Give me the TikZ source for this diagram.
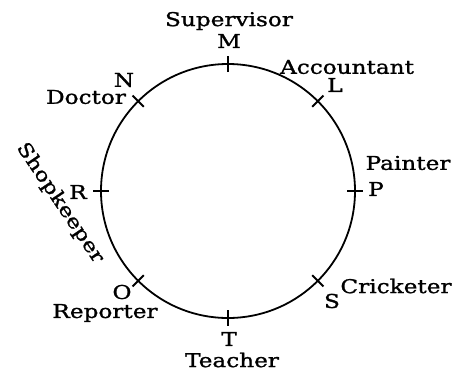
\documentclass[tikz,border=0pt]{standalone}
\usepackage{fontspec}
\setmainfont{DejaVu Serif}[FakeStretch=1.22,FakeBold=1.2]
\usetikzlibrary{calc}
\begin{document}
\begin{tikzpicture}[x=1pt,y=-1pt,
  lbl/.style={inner sep=0pt,font=\fontsize{19}{19}\selectfont},
  tick/.style={line width=1.8pt},
  ring/.style={draw,circle,line width=1.8pt,minimum size=254pt,inner sep=0pt}]
\useasboundingbox (0,0) rectangle (463,373);
\node[ring] (c) at (228,191) {};
\foreach \n/\a in {M/90,L/45,P/0,S/-45,T/-90,O/-135,R/180,N/135}{
  \coordinate (\n i) at ($(c.center)+(\a:119pt)$);
  \coordinate (\n o) at ($(c.center)+(\a:135pt)$);
  \draw[tick] (\n i) -- (\n o);
}
% letters
\node[lbl] (lM) at (229,41) {M};
\node[lbl] (lL) at (335,85) {L};
\node[lbl] (lP) at (376,189) {P};
\node[lbl] (lS) at (332,301) {S};
\node[lbl] (lT) at (229,339) {T};
\node[lbl] (lO) at (122,292) {O};
\node[lbl] (lR) at (78,192) {R};
\node[lbl] (lN) at (124,80) {N};
% professions
\node[lbl] (sup) at (229,21) {Supervisor};
\node[lbl] (acc) at (347,67) {Accountant};
\node[lbl] (pai) at (408,163) {Painter};
\node[lbl] (cri) at (396,286) {Cricketer};
\node[lbl] (tea) at (232,360) {Teacher};
\node[lbl] (rep) at (105,313) {Reporter};
\node[lbl] (doc) at (86,97) {Doctor};
\node[lbl,rotate=-56] (sho) at (60,203) {Shopkeeper};
\end{tikzpicture}
\end{document}
